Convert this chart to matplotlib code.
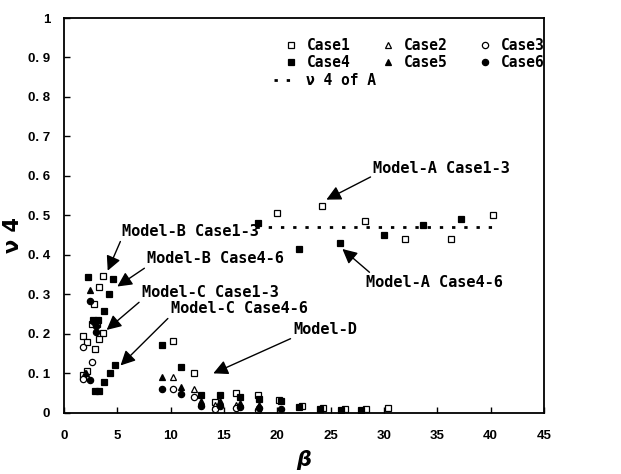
import matplotlib
matplotlib.use("Agg")
import matplotlib.pyplot as plt

# ---------------- data ----------------
case1_beta = [3.7, 3.3, 2.8, 2.6, 3.1, 3.7, 3.3, 1.8, 2.2, 2.9, 2.2, 1.8,
              10.2, 12.2, 14.2, 16.1, 18.2, 20.2, 22.3, 24.3, 26.3, 28.3, 30.4,
              20.0, 24.2, 28.2, 32.0, 36.3, 40.2]
case1_nu = [0.347, 0.318, 0.275, 0.225, 0.225, 0.203, 0.187, 0.195, 0.18, 0.161, 0.105, 0.097,
            0.182, 0.10, 0.028, 0.05, 0.045, 0.032, 0.018, 0.012, 0.01, 0.01, 0.012,
            0.505, 0.525, 0.485, 0.44, 0.44, 0.50]
case2_beta = [2.0, 10.2, 12.2, 14.2, 16.1]
case2_nu = [0.10, 0.09, 0.06, 0.02, 0.02]
case3_beta = [1.8, 2.6, 1.8, 10.2, 12.2, 14.2, 16.1, 18.2]
case3_nu = [0.168, 0.13, 0.085, 0.06, 0.04, 0.01, 0.012, 0.008]
case4_beta = [2.3, 4.6, 4.2, 3.8, 2.75, 3.2, 2.9, 3.3, 3.8, 4.3, 4.8,
              9.2, 11.0, 12.8, 14.6, 16.5, 18.3, 20.3, 22.0, 24.0, 26.0, 27.8,
              18.2, 22.0, 25.9, 30.0, 33.7, 37.2]
case4_nu = [0.345, 0.338, 0.30, 0.258, 0.235, 0.235, 0.056, 0.056, 0.078, 0.102, 0.121,
            0.172, 0.115, 0.045, 0.045, 0.04, 0.035, 0.03, 0.015, 0.01, 0.008, 0.006,
            0.48, 0.415, 0.43, 0.45, 0.475, 0.49]
case5_beta = [2.4, 2.1, 9.2, 11.0, 12.8, 14.6, 16.5, 18.3]
case5_nu = [0.31, 0.10, 0.09, 0.065, 0.03, 0.03, 0.025, 0.02]
case6_beta = [2.4, 3.0, 3.0, 2.8, 2.4, 9.2, 11.0, 12.8, 14.6, 16.5, 18.3, 20.3]
case6_nu = [0.284, 0.22, 0.206, 0.23, 0.083, 0.06, 0.048, 0.018, 0.018, 0.015, 0.012, 0.01]

modelA_beta = [18.0, 40.3]
modelA_nu = [0.47, 0.47]

case_labels = ["Case1", "Case2", "Case3", "Case4", "Case5", "Case6"]
line_label = "\u03bd 4 of A"

x_ticks = [0, 5, 10, 15, 20, 25, 30, 35, 40, 45]
y_ticks = [0, 0.1, 0.2, 0.3, 0.4, 0.5, 0.6, 0.7, 0.8, 0.9, 1.0]
y_ticklabels = ["0", "0. 1", "0. 2", "0. 3", "0. 4", "0. 5", "0. 6", "0. 7", "0. 8", "0. 9", "1"]

# (text, arrow tip, text position, arrow start relative to text box)
annotations = [
    ("Model-A Case1-3", (24.6, 0.54), (29.0, 0.62), (0.0, 0.0)),
    ("Model-A Case4-6", (26.1, 0.415), (28.3, 0.33), (0.05, 1.0)),
    ("Model-B Case1-3", (4.1, 0.36), (5.4, 0.46), (0.0, 0.0)),
    ("Model-B Case4-6", (5.0, 0.32), (7.8, 0.39), (0.0, 0.0)),
    ("Model-C Case1-3", (4.0, 0.21), (7.3, 0.305), (0.0, 0.0)),
    ("Model-C Case4-6", (5.3, 0.12), (10.0, 0.265), (0.0, 0.0)),
    ("Model-D", (14.0, 0.10), (21.5, 0.21), (0.0, 0.0)),
]

# ---------------- figure ----------------
mono = "DejaVu Sans Mono"
fig = plt.figure(figsize=(6.21, 4.74), dpi=100)
ax = fig.add_axes([0.103, 0.129, 0.773, 0.833])

ms = 4.5
styles = [
    dict(marker="s", mfc="white", mec="black"),
    dict(marker="^", mfc="white", mec="black"),
    dict(marker="o", mfc="white", mec="black"),
    dict(marker="s", mfc="black", mec="black"),
    dict(marker="^", mfc="black", mec="black"),
    dict(marker="o", mfc="black", mec="black"),
]
datasets = [(case1_beta, case1_nu), (case2_beta, case2_nu), (case3_beta, case3_nu),
            (case4_beta, case4_nu), (case5_beta, case5_nu), (case6_beta, case6_nu)]
handles = []
for (b, n), st, lab in zip(datasets, styles, case_labels):
    h, = ax.plot(b, n, linestyle="none", markersize=ms, markeredgewidth=0.9,
                 label=lab, **st)
    handles.append(h)

lineA, = ax.plot(modelA_beta, modelA_nu, color="black", linestyle=(0, (1.2, 3.2)),
                 linewidth=2.0, label=line_label)

for text, tip, pos, rel in annotations:
    ax.annotate(text, xy=tip, xytext=pos, textcoords="data",
                fontsize=11, family=mono, fontweight="bold", ha="left", va="center",
                arrowprops=dict(arrowstyle="-|>", color="black", lw=1.0,
                                mutation_scale=22, shrinkA=0, shrinkB=0,
                                relpos=rel))

ax.set_xlim(0, 45)
ax.set_ylim(0, 1)
ax.set_xticks(x_ticks)
ax.set_xticklabels([str(t) for t in x_ticks], fontsize=9.5, fontweight="bold",
                   family="Liberation Sans")
ax.set_yticks(y_ticks)
ax.set_yticklabels(y_ticklabels, fontsize=9.5, fontweight="bold",
                   family="Liberation Sans")
ax.tick_params(direction="in", length=4, width=1, pad=12)
ax.tick_params(axis="y", pad=10)
for s in ax.spines.values():
    s.set_linewidth(1.3)

ax.set_xlabel("\u03b2", fontsize=15, fontstyle="italic", fontweight="bold", labelpad=6)
ax.set_ylabel("\u03bd 4", fontsize=15, fontweight="bold", labelpad=2)
ax.yaxis.set_label_coords(-0.085, 0.45)

legprop = dict(family=mono, size=10.5, weight="bold")
order = [handles[0], handles[3], handles[1], handles[4], handles[2], handles[5]]
leg1 = ax.legend(handles=order, labels=[h.get_label() for h in order], ncol=3,
                 loc="upper left", bbox_to_anchor=(0.437, 0.975), frameon=False,
                 prop=legprop, handlelength=1.0, handletextpad=0.55,
                 columnspacing=2.1, labelspacing=0.15, borderpad=0.2)
ax.add_artist(leg1)
leg2 = ax.legend(handles=[lineA], labels=[line_label], loc="upper left",
                 bbox_to_anchor=(0.416, 0.886), frameon=False, prop=legprop,
                 handlelength=1.65, handletextpad=0.55, borderpad=0.2)

fig.savefig("out.png", dpi=100)
